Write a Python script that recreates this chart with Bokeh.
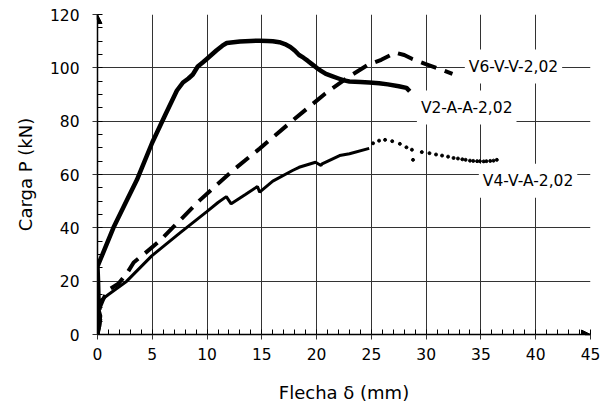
from bokeh.plotting import figure
from bokeh.models import Range1d, FixedTicker, Label, Arrow, NormalHead
from bokeh.embed import file_html
from bokeh.resources import INLINE

# ---- data ----
x_ticks = [0, 5, 10, 15, 20, 25, 30, 35, 40, 45]
y_ticks = [0, 20, 40, 60, 80, 100, 120]

v2_x = [0, 0.05, 0.1, 0.05, 0, 1.45, 2.7, 3.6, 5.0, 6.2, 7.25, 7.8, 8.3, 8.7, 9.15,
        9.6, 10.0, 10.85, 11.4, 11.8, 12.4, 13.0, 14.0, 14.8, 15.5, 16.0, 16.6,
        17.1, 17.6, 18.0, 18.4, 18.8, 19.2, 19.6, 20.0, 20.4, 20.85, 21.4, 22.0,
        22.5, 23.0, 24.0, 24.8, 25.7, 26.5, 27.5, 28.2, 28.5]
v2_y = [0, 5, 12, 20, 25.5, 40, 50.5, 58, 72, 82.5, 91.5, 94.5, 96.0, 97.5, 100.5,
        102.0, 103.4, 106.5, 108.3, 109.3, 109.6, 109.9, 110.1, 110.2, 110.1, 110.0, 109.6,
        108.9, 107.8, 106.5, 104.8, 103.8, 102.6, 101.3, 100.0, 98.9, 97.7, 96.9, 96.0,
        95.3, 94.9, 94.7, 94.5, 94.2, 93.8, 93.1, 92.5, 91.2]

v6_x = [0, 0.15, 0.3, 0.2, 0.5, 0.9, 1.9, 2.7, 3.3, 4.2, 5.7, 7.5, 9.3, 11.0, 12.5,
        14.8, 17.8, 20.8, 23.0, 24.6, 25.9, 27.2, 28.0, 28.7, 29.9, 31.2, 32.4]
v6_y = [0, 3, 7, 10, 13, 16.5, 19, 23, 27, 30, 35.2, 42.7, 50.2, 56.5, 62,
        69.7, 80.2, 90.4, 96.8, 100.9, 103.0, 105.7, 104.8, 103.4, 101.5, 99.6, 97.7]

v4_x = [0, 0.2, 0.3, 0.1, 0.05, 1.0, 2.67, 4.95, 7.5, 9.95, 11.0, 11.76, 12.2, 13.5,
        14.6, 14.8, 16.0, 17.8, 18.4, 19.9, 20.4, 20.5, 22.1, 23.0, 24.8]
v4_y = [0, 3, 7, 10, 12, 15, 20, 29.5, 38, 46, 49.5, 51.7, 49, 52.5,
        55.5, 53.4, 57.5, 61.5, 62.7, 64.6, 63.4, 64, 67.1, 67.8, 69.8]

v4d_x = [25.15, 25.7, 26.25, 26.9, 27.6, 28.2, 28.7, 28.8, 29.6, 30.3, 30.9, 31.45,
         32.0, 32.5, 32.9, 33.3, 33.6, 34.0, 34.3, 34.65, 34.9, 35.25, 35.5,
         35.85, 36.15, 36.45]
v4d_y = [71.7, 72.7, 73.0, 72.5, 71.5, 70.2, 69.3, 65.5, 68.4, 68.0, 67.5, 67.1,
         66.7, 66.2, 66.0, 65.7, 65.5, 65.2, 65.1, 65.0, 65.0, 64.9, 65.0,
         65.1, 65.2, 65.5]

labels = ["V6-V-V-2,02", "V2-A-A-2,02", "V4-V-A-2,02"]
label_x = [37.97, 33.7, 39.3]
label_y = [100.5, 85.1, 57.7]

FONT = "DejaVu Sans"

p = figure(width=610, height=414, x_range=Range1d(0, 45), y_range=Range1d(0, 120),
           output_backend="svg", toolbar_location=None,
           min_border_left=97, min_border_right=20, min_border_top=14, min_border_bottom=80)
p.outline_line_color = None
p.background_fill_color = "white"

# grid
p.xgrid.ticker = FixedTicker(ticks=x_ticks)
p.ygrid.ticker = FixedTicker(ticks=y_ticks)
for g in (p.xgrid, p.ygrid):
    g.grid_line_color = "#333333"
    g.grid_line_width = 1

# axes
p.xaxis.ticker = FixedTicker(ticks=x_ticks, minor_ticks=list(range(0, 46)))
p.yaxis.ticker = FixedTicker(ticks=y_ticks, minor_ticks=list(range(0, 121, 5)))
for ax in (p.xaxis, p.yaxis):
    ax.axis_line_color = "black"
    ax.axis_line_width = 1.5
    ax.major_tick_line_color = "#333333"
    ax.minor_tick_line_color = "black"
    ax.major_tick_in = 0
    ax.major_tick_out = 5
    ax.minor_tick_in = 5
    ax.minor_tick_out = 0
    ax.major_label_text_font = FONT
    ax.major_label_text_font_size = "15.5px"
    ax.major_label_text_color = "black"
    ax.axis_label_text_font = FONT
    ax.axis_label_text_font_size = "18px"
    ax.axis_label_text_font_style = "normal"
    ax.axis_label_text_color = "black"

p.xaxis.axis_label = "Flecha δ (mm)"
p.yaxis.axis_label = "Carga P (kN)"
p.xaxis.major_label_standoff = 8
p.yaxis.major_label_standoff = 13
p.xaxis.axis_label_standoff = 19
p.yaxis.axis_label_standoff = 11

# arrow heads on the axes
p.add_layout(Arrow(end=NormalHead(size=9, fill_color="black", line_color="black", line_width=1),
                   x_start=44.5, y_start=0, x_end=45, y_end=0, line_color="black", line_width=1.5))
p.add_layout(Arrow(end=NormalHead(size=9, fill_color="black", line_color="black", line_width=1),
                   x_start=0, y_start=118, x_end=0, y_end=120, line_color="black", line_width=1.5))

# series
p.line(v4_x, v4_y, line_color="black", line_width=3)
p.scatter(v4d_x, v4d_y, size=3, color="black", marker="circle")
p.line(v6_x, v6_y, line_color="black", line_width=4, line_dash="16 9")
p.line(v2_x, v2_y, line_color="black", line_width=4.5, line_join="round")

for t, lx, ly in zip(labels, label_x, label_y):
    p.add_layout(Label(x=lx, y=ly, text=t, text_align="center", text_baseline="middle",
                       text_font=FONT, text_font_size="15.5px", text_color="black",
                       background_fill_color="white", padding=(4, 8)))

open("out.html", "w").write(file_html(p, INLINE))
